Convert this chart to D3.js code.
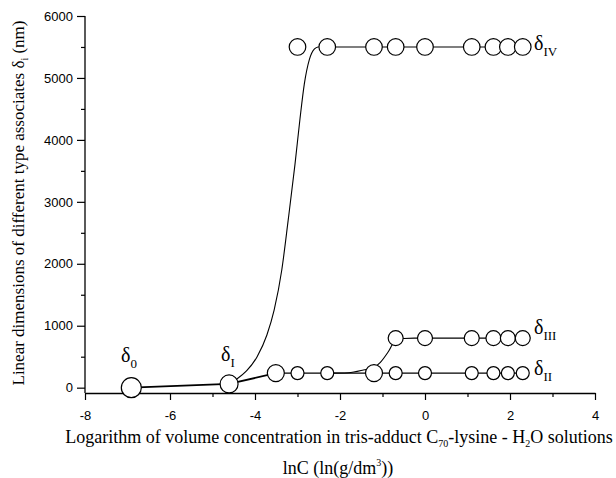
<!DOCTYPE html>
<html><head><meta charset="utf-8">
<script src="https://cdn.jsdelivr.net/npm/d3@7"></script>
<style>
html,body{margin:0;padding:0;background:#fff;}
svg text{fill:#000;}
</style></head>
<body>
<svg id="chart" width="616" height="478"></svg>
<script>
// ---- data ----
const xTicks = [-8, -6, -4, -2, 0, 2, 4];
const yTicks = [0, 1000, 2000, 3000, 4000, 5000, 6000];

// lower chain: delta0 -> deltaI -> deltaII plateau
const mainX = [-6.91, -4.61, -3.51, -3.0, -2.3, -1.2, -0.69, 0, 1.1, 1.61, 1.95, 2.3];
const mainY = [0, 60, 235, 235, 235, 235, 235, 235, 235, 235, 235, 235];

// deltaIII plateau markers
const d3X = [-0.69, 0, 1.1, 1.61, 1.95, 2.3];
const d3Y = [800, 800, 800, 800, 800, 800];

// deltaIV plateau markers
const d4X = [-3.0, -2.3, -1.2, -0.69, 0, 1.1, 1.61, 1.95, 2.3];
const d4Y = [5500, 5500, 5500, 5500, 5500, 5500, 5500, 5500, 5500];

const curve4X = [-4.61, -4.43, -4.2, -3.95, -3.72, -3.55, -3.37, -3.22, -3.06, -2.94, -2.84, -2.72, -2.6, -2.5];
const curve4Y = [60, 140, 270, 500, 850, 1250, 1900, 2700, 3600, 4350, 4900, 5300, 5470, 5505];

const curve3X = [-2.3, -1.8, -1.45, -1.2, -1.05, -0.86, -0.69, -0.5, -0.25, 0];
const curve3Y = [235, 242, 285, 330, 410, 585, 770, 795, 800, 800];

// ---- styling ----
const mainR = [10, 9, 8.5, 6.5, 6.5, 8.5, 6.5, 6.5, 6.5, 6.5, 6.5, 6.5];
const d3R = 7.5, d4R = 8.3;

const svg = d3.select("#chart");
const x = d3.scaleLinear().domain([-8, 4]).range([85, 595]);
const y = d3.scaleLinear().domain([-86, 6000]).range([393, 16]);

const tickFont = "'Liberation Sans', Arial, sans-serif";
const serif = "'Liberation Serif', 'Times New Roman', serif";

// axes
const xAxis = svg.append("g").attr("transform", `translate(0,${y(-86)})`)
  .call(d3.axisBottom(x).tickValues(xTicks).tickFormat(d => String(d)).tickSize(7).tickSizeOuter(0));
svg.append("g").attr("transform", `translate(0,${y(-86)})`)
  .call(d3.axisBottom(x).tickValues(d3.range(-7, 4, 2)).tickFormat("").tickSize(4).tickSizeOuter(0))
  .select(".domain").remove();
const yAxis = svg.append("g").attr("transform", `translate(${x(-8)},0)`)
  .call(d3.axisLeft(y).tickValues(yTicks).tickFormat(d => String(d)).tickSize(8).tickSizeOuter(0));
svg.append("g").attr("transform", `translate(${x(-8)},0)`)
  .call(d3.axisLeft(y).tickValues(d3.range(500, 6000, 1000)).tickFormat("").tickSize(4).tickSizeOuter(0))
  .select(".domain").remove();

svg.selectAll(".domain").attr("stroke", "#000").attr("stroke-width", 1.3);
svg.selectAll(".tick line").attr("stroke", "#000").attr("stroke-width", 1.2);
xAxis.selectAll("text").attr("font-family", tickFont).attr("font-size", 13).attr("dy", "0.95em").attr("y", 15);
yAxis.selectAll("text").attr("font-family", tickFont).attr("font-size", 13).attr("x", -12);
yAxis.select(".domain").attr("d", `M0,${y(-86)}V${y(6000)}`);

// lines
const lineGen = d3.line().x(d => x(d[0])).y(d => y(d[1]));
const smooth = d3.line().x(d => x(d[0])).y(d => y(d[1])).curve(d3.curveMonotoneX);

const mainPts = mainX.map((v, i) => [v, mainY[i]]);
svg.append("path").datum(mainPts.slice(0, 3)).attr("d", lineGen)
  .attr("fill", "none").attr("stroke", "#000").attr("stroke-width", 1.8);
svg.append("path").datum(mainPts.slice(2)).attr("d", lineGen)
  .attr("fill", "none").attr("stroke", "#000").attr("stroke-width", 1.1);

svg.append("path").datum(curve4X.map((v, i) => [v, curve4Y[i]])).attr("d", smooth)
  .attr("fill", "none").attr("stroke", "#000").attr("stroke-width", 1.1);
svg.append("path").datum(curve3X.map((v, i) => [v, curve3Y[i]])).attr("d", smooth)
  .attr("fill", "none").attr("stroke", "#000").attr("stroke-width", 1.1);

const d3Pts = d3X.map((v, i) => [v, d3Y[i]]);
svg.append("path").datum(d3Pts.slice(1)).attr("d", lineGen)
  .attr("fill", "none").attr("stroke", "#000").attr("stroke-width", 1.1);
const d4Pts = d4X.map((v, i) => [v, d4Y[i]]);
svg.append("path").datum(d4Pts.slice(1)).attr("d", lineGen)
  .attr("fill", "none").attr("stroke", "#000").attr("stroke-width", 1.1);

// markers
function markers(pts, r) {
  svg.append("g").selectAll("circle").data(pts).join("circle")
    .attr("cx", d => x(d[0])).attr("cy", d => y(d[1]))
    .attr("r", (d, i) => Array.isArray(r) ? r[i] : r)
    .attr("fill", "#fff").attr("stroke", "#000").attr("stroke-width", 1.2);
}
markers(mainPts, mainR);
markers(d3Pts, d3R);
markers(d4Pts, d4R);

// delta labels
const deltaLabels = [
  {t: "0", px: 121, py: 362},
  {t: "I", px: 221, py: 361},
  {t: "IV", px: 534, py: 50},
  {t: "III", px: 534, py: 334},
  {t: "II", px: 534, py: 375}
];
deltaLabels.forEach(l => {
  const tx = svg.append("text").attr("x", l.px).attr("y", l.py)
    .attr("font-family", serif).attr("font-size", 20);
  tx.append("tspan").text("δ");
  tx.append("tspan").attr("font-size", 13).attr("dy", 6).text(l.t);
});

// axis titles
const xt = svg.append("text").attr("x", 339).attr("y", 443).attr("text-anchor", "middle")
  .attr("font-family", serif).attr("font-size", 18);
xt.append("tspan").text("Logarithm of volume concentration in tris-adduct C");
xt.append("tspan").attr("font-size", 10).attr("dy", 4).text("70");
xt.append("tspan").attr("dy", -4).text("-lysine - H");
xt.append("tspan").attr("font-size", 10).attr("dy", 4).text("2");
xt.append("tspan").attr("dy", -4).text("O solutions");

const xt2 = svg.append("text").attr("x", 338).attr("y", 474).attr("text-anchor", "middle")
  .attr("font-family", serif).attr("font-size", 18);
xt2.append("tspan").text("lnC (ln(g/dm");
xt2.append("tspan").attr("font-size", 10).attr("dy", -8).text("3");
xt2.append("tspan").attr("dy", 8).text("))");

const yt = svg.append("text").attr("transform", `translate(24,203) rotate(-90)`)
  .attr("text-anchor", "middle").attr("font-family", serif).attr("font-size", 17);
yt.append("tspan").text("Linear dimensions of different type associates δ");
yt.append("tspan").attr("font-size", 10).attr("dy", 4).text("i");
yt.append("tspan").attr("dy", -4).text(" (nm)");
</script>
</body></html>
